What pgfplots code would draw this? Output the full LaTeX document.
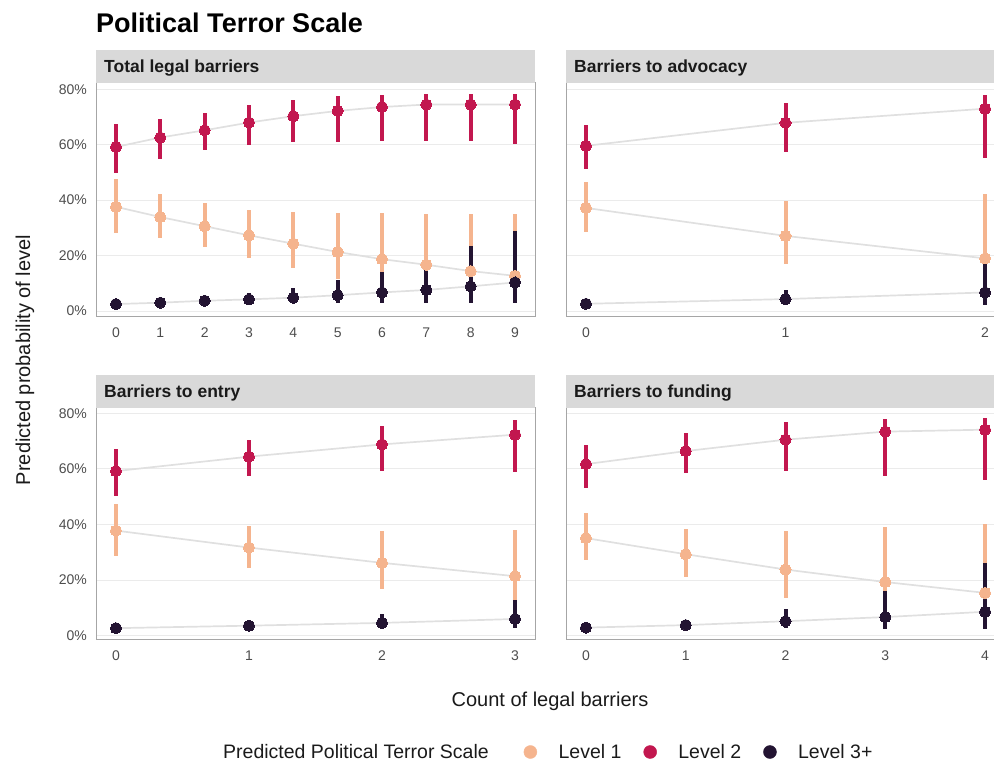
\documentclass[border=0pt]{standalone}
\usepackage{fontspec}
\setmainfont{Liberation Sans}
\usepackage{pgfplots}
\usepackage{pgfplotstable}
\pgfplotsset{compat=1.18}
\definecolor{cA}{HTML}{F5B48E}
\definecolor{cB}{HTML}{C2174F}
\definecolor{cC}{HTML}{231432}
\definecolor{ln}{HTML}{E0E0E0}
\definecolor{grd}{HTML}{EBEBEB}
\definecolor{brd}{HTML}{A6A6A6}
\definecolor{stripc}{HTML}{D9D9D9}
\definecolor{tickc}{HTML}{4D4D4D}
\definecolor{txt}{HTML}{1A1A1A}

% ---- Total legal barriers
\pgfplotstableread{
x y lo hi
0 37.6 28.1 47.7
1 33.9 26.3 42.3
2 30.6 23.2 38.8
3 27.3 19.2 36.6
4 24.3 15.4 35.8
5 21.3 11.5 35.3
6 18.7 8.0 35.3
7 16.7 6.0 35.1
8 14.4 5.0 35.1
9 12.7 4.0 35.1
}\tlA
\pgfplotstableread{
x y lo hi
0 59.2 49.8 67.6
1 62.6 54.9 69.1
2 65.2 58.0 71.4
3 68.0 59.8 74.2
4 70.3 60.8 76.2
5 72.2 61.0 77.6
6 73.6 61.3 77.9
7 74.5 61.4 78.2
8 74.5 61.3 78.2
9 74.5 60.1 78.2
}\tlB
\pgfplotstableread{
x y lo hi
0 2.5 2.0 3.0
1 3.0 2.4 3.6
2 3.7 2.8 4.6
3 4.2 2.9 6.4
4 4.8 3.0 8.3
5 5.7 2.8 11.2
6 6.7 2.8 14.2
7 7.6 2.8 14.8
8 8.9 2.8 23.5
9 10.3 2.8 28.9
}\tlC
% ---- Barriers to advocacy
\pgfplotstableread{
x y lo hi
0 37.2 28.6 46.5
1 27.1 17.0 39.6
2 19.0 5.0 42.2
}\trA
\pgfplotstableread{
x y lo hi
0 59.6 51.1 67.0
1 67.9 57.3 75.1
2 73.0 55.2 77.8
}\trB
\pgfplotstableread{
x y lo hi
0 2.6 2.0 3.2
1 4.3 3.0 7.6
2 6.7 2.1 17.4
}\trC
% ---- Barriers to entry
\pgfplotstableread{
x y lo hi
0 37.8 28.8 47.3
1 31.7 24.5 39.6
2 26.2 16.9 37.6
3 21.4 5.0 38.1
}\blA
\pgfplotstableread{
x y lo hi
0 59.2 50.4 67.2
1 64.4 57.4 70.5
2 68.8 59.2 75.3
3 72.3 58.8 77.6
}\blB
\pgfplotstableread{
x y lo hi
0 2.7 2.2 3.2
1 3.6 2.9 4.3
2 4.6 2.8 7.8
3 6.0 2.7 12.8
}\blC
% ---- Barriers to funding
\pgfplotstableread{
x y lo hi
0 35.1 27.1 44.1
1 29.3 21.2 38.3
2 23.8 13.6 37.7
3 19.3 6.0 39.1
4 15.4 4.0 40.1
}\brA
\pgfplotstableread{
x y lo hi
0 61.7 53.2 68.5
1 66.4 58.5 72.9
2 70.5 59.1 76.7
3 73.4 57.3 77.9
4 74.1 56.0 78.2
}\brB
\pgfplotstableread{
x y lo hi
0 2.9 2.3 3.5
1 3.8 3.0 4.6
2 5.2 2.9 9.6
3 6.7 2.5 16.2
4 8.6 2.3 26.0
}\brC

\pgfplotsset{
  panel/.style={scale only axis, width=439pt, anchor=south west,
    axis line style={draw=brd, line width=1pt},
    major tick length=0pt, tick style={draw=none},
    ymajorgrids, grid style={draw=grd, line width=1pt},
    ytick={0,20,40,60,80},
    /pgf/number format/assume math mode=true,
    ticklabel style={font=\fontsize{14}{16}\selectfont, text=tickc, inner sep=0pt},
    xticklabel style={yshift=-11pt},
    yticklabel style={xshift=-9pt},
    clip=false},
  leftp/.style={yticklabels={0\%,20\%,40\%,60\%,80\%}},
  rightp/.style={yticklabels={}},
  ebar/.style={only marks, mark=none, forget plot,
    error bars/.cd, y dir=both, y explicit, error mark=none,
    error bar style={draw=#1, line width=4pt}},
  pts/.style={only marks, mark=*, mark size=5.6pt, forget plot,
    mark options={draw=#1, fill=#1, line width=0pt}},
  conn/.style={ln, line width=1.7pt, mark=none, forget plot},
}
\newcommand\ebtable[2]{\addplot[ebar=#2] table[x=x, y=y,
   y error plus expr=\thisrow{hi}-\thisrow{y},
   y error minus expr=\thisrow{y}-\thisrow{lo}]{#1};}
\newcommand\levels[3]{%
  \addplot[conn] table[x=x,y=y]{#1};
  \addplot[conn] table[x=x,y=y]{#2};
  \addplot[conn] table[x=x,y=y]{#3};
  \ebtable{#1}{cA}
  \ebtable{#2}{cB}
  \ebtable{#3}{cC}
  \addplot[pts=cA] table[x=x,y=y]{#1};
  \addplot[pts=cB] table[x=x,y=y]{#2};
  \addplot[pts=cC] table[x=x,y=y]{#3};
}

\begin{document}
\begin{tikzpicture}[x=1pt,y=1pt]
% top-left
\begin{axis}[panel, leftp, at={(96pt,445pt)}, height=234pt,
  xmin=-0.451, xmax=9.451, ymin=-2.16, ymax=82.27, xtick={0,...,9}]
\levels{\tlA}{\tlB}{\tlC}
\end{axis}
% top-right
\begin{axis}[panel, rightp, at={(566pt,445pt)}, height=234pt,
  xmin=-0.1, xmax=2.1, ymin=-2.16, ymax=82.27, xtick={0,1,2}]
\levels{\trA}{\trB}{\trC}
\end{axis}
% bottom-left
\begin{axis}[panel, leftp, at={(96pt,122pt)}, height=232pt,
  xmin=-0.15, xmax=3.15, ymin=-1.55, ymax=81.9, xtick={0,1,2,3},
  legend columns=-1,
  legend image code/.code={\fill[#1] (0pt,0pt) circle (6.5pt);},
  legend style={at={(0.9738,-0.4828)}, anchor=west, draw=none, fill=none,
    inner sep=0pt, font=\fontsize{19.5}{22}\selectfont, text=txt,
    nodes={inner sep=0pt},
    /tikz/every odd column/.append style={column sep=21.5pt},
    /tikz/every even column/.append style={column sep=22pt}}]
\levels{\blA}{\blB}{\blC}
\addlegendimage{cA}\addlegendentry{Level 1}
\addlegendimage{cB}\addlegendentry{Level 2}
\addlegendimage{cC}\addlegendentry{Level 3+}
\end{axis}
% bottom-right
\begin{axis}[panel, rightp, at={(566pt,122pt)}, height=232pt,
  xmin=-0.2, xmax=4.2, ymin=-1.55, ymax=81.9, xtick={0,...,4}]
\levels{\brA}{\brB}{\brC}
\end{axis}
% strips
\fill[stripc] (96pt,679pt) rectangle (535pt,712pt);
\fill[stripc] (566pt,679pt) rectangle (1005pt,712pt);
\fill[stripc] (96pt,354pt) rectangle (535pt,387pt);
\fill[stripc] (566pt,354pt) rectangle (1005pt,387pt);
\begin{scope}[every node/.style={anchor=base west, inner sep=0pt, text=txt,
   font=\fontsize{17.5}{20}\selectfont\bfseries}]
\node at (104pt,689pt) {Total legal barriers};
\node at (574pt,689pt) {Barriers to advocacy};
\node at (104pt,364pt) {Barriers to entry};
\node at (574pt,364pt) {Barriers to funding};
\end{scope}
% title
\node[anchor=base west, inner sep=0pt, font=\fontsize{27}{31}\selectfont\bfseries, text=black]
  at (96pt,729pt) {Political Terror Scale};
% axis titles
\node[rotate=90, inner sep=0pt, font=\fontsize{20}{24}\selectfont, text=txt]
  at (25pt,402pt) {Predicted probability of level};
\node[inner sep=0pt, font=\fontsize{20}{24}\selectfont, text=txt]
  at (550pt,61pt) {Count of legal barriers};
\node[anchor=west, inner sep=0pt, font=\fontsize{19.5}{22}\selectfont, text=txt]
  at (223pt,10pt) {Predicted Political Terror Scale};
\pgfresetboundingbox
\path[use as bounding box] (0pt,0pt) rectangle (994pt,762pt);
\end{tikzpicture}
\end{document}
